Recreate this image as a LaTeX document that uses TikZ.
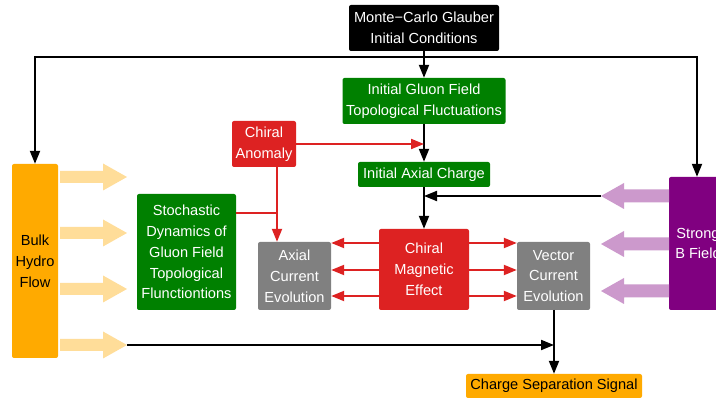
\documentclass[tikz,border=0pt]{standalone}
\usepackage{fontspec}
\setmainfont{Liberation Sans}
\usetikzlibrary{arrows.meta,calc}
\definecolor{cgreen}{HTML}{008000}
\definecolor{cred}{HTML}{DD2222}
\definecolor{corange}{HTML}{FFAA00}
\definecolor{cgray}{HTML}{808080}
\definecolor{cpurple}{HTML}{800080}
\definecolor{lorange}{HTML}{FFDD99}
\definecolor{lpurple}{HTML}{CC99CC}
\tikzset{
  box/.style={rounded corners=2pt, inner sep=0pt, align=center, text=white,
    font=\fontsize{14.6}{20.8}\selectfont},
  blk/.style={draw=black, line width=2pt, -{Triangle[length=13pt,width=10pt]}},
  rd/.style={draw=cred, line width=2pt, -{Triangle[length=13pt,width=10pt]}},
  rdline/.style={draw=cred, line width=2pt},
}
\begin{document}
\begin{tikzpicture}[x=1pt,y=-1pt]
\clip (0,0) rectangle (716,403);
\fill[white] (0,0) rectangle (716,403);
% boxes
\node[box, fill=black, minimum width=150pt, minimum height=46pt] (mc) at (424,28) {Monte−Carlo Glauber\\Initial Conditions};
\node[box, fill=cgreen, minimum width=163pt, minimum height=46pt] (gluon) at (424,101) {Initial Gluon Field\\Topological Fluctuations};
\node[box, fill=cred, minimum width=64pt, minimum height=46pt] (anomaly) at (264,144) {Chiral\\Anomaly};
\node[box, fill=cgreen, minimum width=132pt, minimum height=25pt] (axch) at (424,174.5) {Initial Axial Charge};
\node[box, fill=corange, text=black, minimum width=46pt, minimum height=194pt] (bulk) at (35,261) {Bulk\\Hydro\\Flow};
\node[box, fill=cgreen, minimum width=99pt, minimum height=116pt] (stoch) at (186.5,252) {Stochastic\\Dynamics of\\Gluon Field\\Topological\\Flunctiontions};
\node[box, fill=cgray, minimum width=73pt, minimum height=68pt] (axial) at (294.5,276) {Axial\\Current\\Evolution};
\node[box, fill=cred, minimum width=90pt, minimum height=81pt] (cme) at (424,269.5) {Chiral\\Magnetic\\Effect};
\node[box, fill=cgray, minimum width=73pt, minimum height=68pt] (vector) at (553.5,276) {Vector\\Current\\Evolution};
\node[box, fill=cpurple, minimum width=58pt, minimum height=133pt] (bfield) at (698,243.5) {Strong\\B Field};
\node[box, fill=corange, text=black, minimum width=176pt, minimum height=24pt] (css) at (554,386) {Charge Separation Signal};
% fat arrows from bulk flow
\foreach \yy in {177,233,289,345}{
  \fill[lorange] (60,\yy-6) -- (103,\yy-6) -- (103,\yy-13.5) -- (127,\yy) -- (103,\yy+13.5) -- (103,\yy+6) -- (60,\yy+6) -- cycle;
}
% fat arrows from B field
\foreach \yy in {196,244,291}{
  \fill[lpurple] (669,\yy-6.5) -- (624,\yy-6.5) -- (624,\yy-13) -- (601,\yy) -- (624,\yy+13) -- (624,\yy+6.5) -- (669,\yy+6.5) -- cycle;
}
\coordinate (bftip) at (601,196);
\coordinate (bulktip) at (127,345);
\coordinate (j) at (424,57);
\coordinate (vs) at (554,310);
\coordinate (av) at (277,167);
\coordinate (se) at ([yshift=39pt]stoch.east);
% black connectors
\draw[blk] (mc.south) -- (gluon.north);
\draw[blk] (j) -| (bulk.north);
\draw[blk] (j) -| ([xshift=-1pt]bfield.north);
\draw[blk] (gluon.south) -- (axch.north);
\draw[blk] (axch.south) -- (cme.north);
\draw[blk] (bftip) -- (bftip -| cme.north);
\draw[blk] (vs) -- (css.north);
\draw[blk] (bulktip) -- (bulktip -| vs);
% red connectors
\draw[rd] (anomaly.east) -- (anomaly.east -| gluon.south);
\draw[rd] (av) -- (av |- axial.north);
\draw[rdline] (se) -- (se -| av);
\foreach \s in {26.5,-0.5,-26.5}{
  \draw[rd] ([yshift=\s pt]cme.west) -- ([yshift=\s pt]cme.west -| axial.east);
  \draw[rd] ([yshift=\s pt]cme.east) -- ([yshift=\s pt]cme.east -| vector.west);
}
\end{tikzpicture}
\end{document}
